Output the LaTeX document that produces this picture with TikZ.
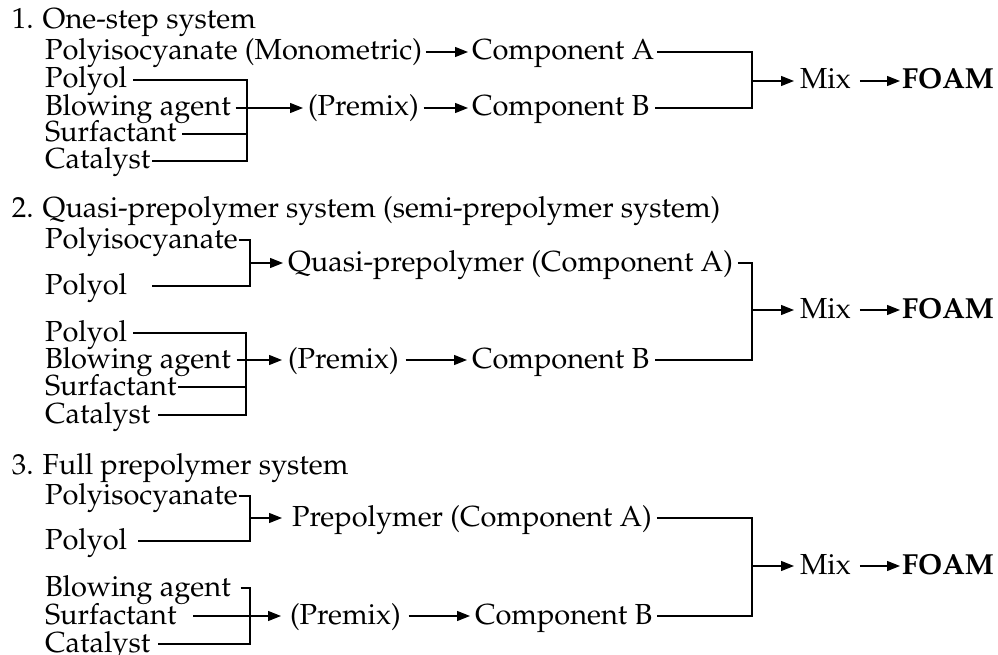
\documentclass[tikz,border=0pt]{standalone}
\usepackage[T1]{fontenc}
\renewcommand{\rmdefault}{ppl}
\usetikzlibrary{arrows.meta,calc}
\begin{document}
\begin{tikzpicture}[x=1pt,y=-1pt,
  lbl/.style={anchor=west,inner sep=0pt,outer sep=0pt,font=\fontsize{29}{34}\selectfont,text height=21pt,text depth=5pt},
  bold/.style={font=\fontsize{29}{34}\selectfont\bfseries},
  ln/.style={line width=1.3pt,line join=miter},
  arr/.style={ln,-{Triangle[length=13pt,width=10pt]}}]
\fill[white] (0,0) rectangle (998,655);
\useasboundingbox (0,0) rectangle (998,655);
% ---------- Section 1
\node[lbl] (t1) at (12,21) {1. One-step system};
\node[lbl] (iso1) at (45,52) {Polyisocyanate (Monometric)};
\node[lbl] (ca1) at (472,52) {Component A};
\node[lbl] (pol1) at (45,80) {Polyol};
\node[lbl] (blw1) at (45,108) {Blowing agent};
\node[lbl] (pre1) at (308,108) {(Premix)};
\node[lbl] (cb1) at (472,108) {Component B};
\node[lbl] (sur1) at (45,134) {Surfactant};
\node[lbl] (cat1) at (45,161) {Catalyst};
\node[lbl] (mix1) at (800,81) {Mix};
\node[lbl,bold] (foam1) at (902,81) {FOAM};
\coordinate (v1) at (247,0);
\coordinate (m1) at (752,81);
\draw[arr] ([xshift=4pt]iso1.east) -- ([xshift=-4pt]ca1.west);
\draw[ln] ([xshift=6pt]pol1.east) -- (pol1.east -| v1) -- (cat1.east -| v1) -- ([xshift=2pt]cat1.east);
\draw[ln] ([xshift=6pt]sur1.east) -- (sur1.east -| v1);
\draw[arr] ([xshift=5pt]blw1.east) -- ([xshift=-5pt]pre1.west);
\draw[arr] ([xshift=5pt]pre1.east) -- ([xshift=-4pt]cb1.west);
\draw[ln] ([xshift=3pt]ca1.east) -| (cb1.east -| m1) -- ([xshift=6pt]cb1.east);
\draw[arr] (m1) -- ([xshift=-6pt]mix1.west);
\draw[arr] ([xshift=9pt]mix1.east) -- ([xshift=-2pt]foam1.west);
% ---------- Section 2
\node[lbl] (t2) at (12,210) {2. Quasi-prepolymer system (semi-prepolymer system)};
\node[lbl] (iso2) at (45,240) {Polyisocyanate};
\node[lbl] (pol2) at (45,286) {Polyol};
\node[lbl] (qa2) at (288,263) {Quasi-prepolymer (Component A)};
\node[lbl] (pol2b) at (45,333) {Polyol};
\node[lbl] (blw2) at (45,360) {Blowing agent};
\node[lbl] (pre2) at (288,360) {(Premix)};
\node[lbl] (cb2) at (472,360) {Component B};
\node[lbl] (sur2) at (45,387) {Surfactant};
\node[lbl] (cat2) at (45,415) {Catalyst};
\node[lbl] (mix2) at (800,310) {Mix};
\node[lbl,bold] (foam2) at (902,310) {FOAM};
\coordinate (v2a) at (250,0);
\coordinate (v2b) at (246,0);
\coordinate (m2) at (752,310);
\draw[ln] ([xshift=1pt]iso2.east) -| (pol2.east -| v2a) -- ([xshift=25pt]pol2.east);
\draw[arr] (qa2.west -| v2a) -- ([xshift=-5pt]qa2.west);
\draw[ln] ([xshift=6pt]pol2b.east) -- (pol2b.east -| v2b) -- (cat2.east -| v2b) -- ([xshift=8pt]cat2.east);
\draw[ln] ([xshift=2pt]sur2.east) -- (sur2.east -| v2b);
\draw[arr] ([xshift=6pt]blw2.east) -- ([xshift=-6pt]pre2.west);
\draw[arr] ([xshift=7pt]pre2.east) -- ([xshift=-5pt]cb2.west);
\draw[ln] ([xshift=5pt]qa2.east) -| (cb2.east -| m2) -- ([xshift=6pt]cb2.east);
\draw[arr] (m2) -- ([xshift=-6pt]mix2.west);
\draw[arr] ([xshift=9pt]mix2.east) -- ([xshift=-2pt]foam2.west);
% ---------- Section 3
\node[lbl] (t3) at (12,466) {3. Full prepolymer system};
\node[lbl] (iso3) at (45,496) {Polyisocyanate};
\node[lbl] (pol3) at (45,541) {Polyol};
\node[lbl] (pp3) at (292,518) {Prepolymer (Component A)};
\node[lbl] (blw3) at (45,588) {Blowing agent};
\node[lbl] (sur3) at (45,616) {Surfactant};
\node[lbl] (pre3) at (290,616) {(Premix)};
\node[lbl] (cb3) at (475,616) {Component B};
\node[lbl] (cat3) at (45,644) {Catalyst};
\node[lbl] (mix3) at (800,566) {Mix};
\node[lbl,bold] (foam3) at (902,566) {FOAM};
\coordinate (v3) at (250,0);
\coordinate (m3) at (752,566);
\draw[ln] ([xshift=1pt]iso3.east) -| (pol3.east -| v3) -- ([xshift=11pt]pol3.east);
\draw[arr] (pp3.west -| v3) -- ([xshift=-10pt]pp3.west);
\draw[ln] ([xshift=10pt]blw3.east) -| (cat3.east -| v3) -- ([xshift=8pt]cat3.east);
\draw[arr] ([xshift=17pt]sur3.east) -- ([xshift=-9pt]pre3.west);
\draw[arr] ([xshift=8pt]pre3.east) -- ([xshift=-5pt]cb3.west);
\draw[ln] ([xshift=5pt]pp3.east) -| (cb3.east -| m3) -- ([xshift=5pt]cb3.east);
\draw[arr] (m3) -- ([xshift=-6pt]mix3.west);
\draw[arr] ([xshift=9pt]mix3.east) -- ([xshift=-2pt]foam3.west);
\end{tikzpicture}
\end{document}
